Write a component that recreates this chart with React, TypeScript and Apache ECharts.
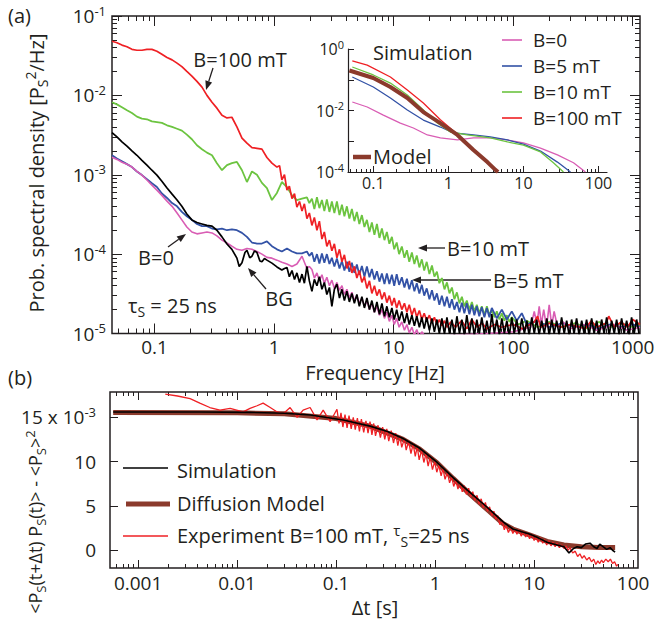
import React, { useEffect, useRef } from "react";
import * as echarts from "echarts";

type P = [number, number];

// ---------- axis ranges and ticks ----------
const FREQ_RANGE: P = [0.044, 1150];
const PSD_RANGE: P = [1e-5, 1e-1];
const FREQ_TICKS = [0.1, 1, 10, 100, 1000];
const PSD_TICKS = [1e-5, 1e-4, 1e-3, 1e-2, 1e-1];

const SIM_FREQ_RANGE: P = [0.046, 130];
const SIM_PSD_RANGE: P = [1e-4, 1];
const SIM_FREQ_TICKS = [0.1, 1, 10, 100];
const SIM_PSD_TICKS = [1e-4, 1e-3, 1e-2, 1e-1, 1];
const SIM_PSD_LABELS = [1e-4, 1e-2, 1];

const DT_RANGE: P = [5.2e-4, 112];
const ACF_RANGE: P = [-2.0, 17.85];
const DT_TICKS = [0.001, 0.01, 0.1, 1, 10, 100];
const ACF_TICKS = [0, 5, 10, 15];

// ---------- (a) measured spectra [Hz, Ps^2/Hz] ----------
const psdB100: P[] = [
  [0.044, 4.8e-2], [0.0484, 4.6e-2], [0.0533, 4.3e-2], [0.0587, 4.1e-2], [0.0646, 3.8e-2], [0.0711, 3.7e-2],
  [0.0783, 3.7e-2], [0.0862, 3.8e-2], [0.0949, 3.8e-2], [0.1045, 3.6e-2], [0.115, 3.3e-2], [0.127, 3.0e-2],
  [0.14, 2.8e-2], [0.154, 2.55e-2], [0.169, 2.3e-2], [0.186, 2.0e-2], [0.205, 1.75e-2], [0.226, 1.5e-2],
  [0.249, 1.27e-2], [0.274, 1.0e-2], [0.302, 8.2e-3], [0.332, 6.9e-3], [0.366, 5.6e-3], [0.403, 5.2e-3],
  [0.443, 5.3e-3], [0.488, 4.0e-3], [0.538, 2.9e-3], [0.592, 2.5e-3], [0.652, 2.2e-3], [0.718, 2.15e-3],
  [0.79, 2.1e-3], [0.87, 1.65e-3], [0.958, 1.4e-3], [1.055, 1.25e-3], [1.11, 1.3e-3],
  [1.16, 8.6e-4], [1.22, 1.0e-3], [1.28, 6.4e-4], [1.34, 7.2e-4], [1.41, 5.0e-4], [1.48, 5.8e-4],
  [1.55, 3.9e-4], [1.63, 4.6e-4], [1.71, 3.5e-4], [1.79, 4.3e-4], [1.88, 2.8e-4], [1.97, 3.3e-4],
  [2.07, 2.3e-4], [2.17, 2.9e-4], [2.28, 2.0e-4], [2.39, 2.6e-4], [2.51, 1.55e-4], [2.63, 1.9e-4],
  [2.76, 1.25e-4], [2.9, 1.5e-4], [3.04, 1.1e-4], [3.19, 1.35e-4], [3.35, 9.0e-5], [3.52, 1.15e-4],
  [3.69, 8.0e-5], [3.87, 9.8e-5], [4.06, 6.6e-5], [4.26, 8.2e-5], [4.47, 5.8e-5], [4.69, 7.0e-5],
  [4.92, 5.0e-5], [5.16, 6.2e-5], [5.42, 4.4e-5], [5.69, 5.2e-5], [5.97, 3.7e-5], [6.27, 4.6e-5],
  [6.57, 3.2e-5], [6.9, 4.0e-5], [7.24, 3.0e-5], [7.6, 3.6e-5], [7.97, 2.7e-5], [8.37, 3.3e-5],
  [8.77, 2.45e-5], [9.2, 3.0e-5], [9.66, 2.25e-5], [10.1, 2.8e-5], [10.6, 2.1e-5], [11.1, 2.6e-5],
  [11.7, 2.0e-5], [12.3, 2.4e-5], [12.9, 1.85e-5], [13.5, 2.3e-5], [14.2, 1.7e-5], [14.9, 2.1e-5],
  [15.6, 1.6e-5], [16.4, 1.95e-5], [17.2, 1.5e-5], [18.0, 1.8e-5], [18.9, 1.45e-5], [19.9, 1.7e-5],
  [20.9, 1.35e-5], [21.9, 1.6e-5], [23.0, 1.3e-5], [24.1, 1.5e-5], [25.3, 1.25e-5], [26.6, 1.45e-5],
  [27.9, 1.2e-5], [30, 1.4e-5], [33, 1.2e-5], [37, 1.45e-5], [41, 1.15e-5], [45, 1.5e-5], [50, 1.2e-5],
  [55, 1.35e-5], [60, 1.15e-5], [70, 1.3e-5], [80, 1.2e-5], [100, 1.3e-5], [120, 1.15e-5], [150, 1.4e-5],
  [160, 1.65e-5], [170, 1.2e-5], [200, 1.35e-5], [250, 1.2e-5], [300, 1.3e-5], [400, 1.15e-5], [450, 1.45e-5],
  [500, 1.2e-5], [600, 1.35e-5], [630, 1.65e-5], [700, 1.2e-5], [800, 1.4e-5], [900, 1.2e-5], [1000, 1.5e-5],
  [1150, 1.3e-5],
];

const psdB10: P[] = [
  [0.044, 8.2e-3], [0.0484, 7.7e-3], [0.0533, 7.1e-3], [0.0587, 6.5e-3], [0.0646, 6.0e-3], [0.0711, 5.4e-3],
  [0.0783, 5.1e-3], [0.0862, 5.0e-3], [0.0949, 4.7e-3], [0.1045, 4.6e-3], [0.115, 4.5e-3], [0.127, 4.2e-3],
  [0.14, 4.0e-3], [0.154, 3.8e-3], [0.169, 3.6e-3], [0.186, 3.2e-3], [0.205, 2.8e-3], [0.226, 2.35e-3],
  [0.249, 2.1e-3], [0.274, 1.9e-3], [0.302, 1.76e-3], [0.332, 1.4e-3], [0.366, 1.14e-3], [0.403, 1.32e-3],
  [0.443, 1.4e-3], [0.488, 1.45e-3], [0.538, 1.14e-3], [0.592, 8.1e-4], [0.652, 1.1e-3], [0.718, 1.0e-3],
  [0.79, 7.9e-4], [0.87, 6.8e-4], [0.958, 4.8e-4], [1.055, 5.9e-4], [1.16, 8.1e-4], [1.28, 7.0e-4],
  [1.41, 5.5e-4], [1.55, 4.8e-4], [1.71, 5.0e-4], [1.88, 5.2e-4], [1.97, 4.4e-4],
  [2.07, 5.0e-4], [2.17, 3.7e-4], [2.28, 5.2e-4], [2.39, 3.8e-4], [2.51, 4.8e-4], [2.63, 3.5e-4],
  [2.76, 4.9e-4], [2.9, 3.4e-4], [3.04, 4.6e-4], [3.19, 3.3e-4], [3.35, 4.6e-4], [3.52, 3.1e-4],
  [3.69, 4.2e-4], [3.87, 3.0e-4], [4.06, 4.0e-4], [4.26, 2.8e-4], [4.47, 3.7e-4], [4.69, 2.6e-4],
  [4.92, 3.4e-4], [5.16, 2.4e-4], [5.42, 3.1e-4], [5.69, 2.2e-4], [5.97, 2.7e-4], [6.27, 1.9e-4],
  [6.57, 2.5e-4], [6.9, 1.75e-4], [7.24, 2.4e-4], [7.6, 1.6e-4], [7.97, 2.1e-4], [8.37, 1.5e-4],
  [8.77, 1.9e-4], [9.2, 1.35e-4], [9.66, 1.65e-4], [10.1, 1.15e-4], [10.6, 1.4e-4], [11.1, 1.0e-4],
  [11.7, 1.25e-4], [12.3, 9.0e-5], [12.9, 1.12e-4], [13.5, 8.0e-5], [14.2, 1.05e-4], [14.9, 7.5e-5],
  [15.6, 9.6e-5], [16.4, 6.8e-5], [17.2, 8.6e-5], [18.0, 6.2e-5], [18.9, 8.0e-5], [19.9, 5.6e-5],
  [20.9, 7.2e-5], [21.9, 5.2e-5], [23.0, 6.0e-5], [24.1, 4.3e-5], [25.3, 5.0e-5], [26.6, 3.6e-5],
  [27.9, 4.4e-5], [29.3, 3.2e-5], [30.7, 3.8e-5], [32.2, 2.7e-5], [33.8, 3.3e-5], [35.5, 2.4e-5],
  [37.2, 2.9e-5], [39, 2.2e-5], [40.9, 2.6e-5], [43, 2.0e-5], [45.1, 2.5e-5], [47.3, 1.9e-5],
  [49.6, 2.3e-5], [52, 1.8e-5], [54.6, 2.2e-5], [57.4, 1.7e-5], [60.2, 2.2e-5], [63.2, 1.7e-5],
  [66.2, 2.0e-5], [69.5, 1.6e-5], [72.9, 1.9e-5], [76.6, 1.5e-5], [80.3, 1.8e-5], [84.3, 1.45e-5],
  [88.4, 1.7e-5], [92.8, 1.4e-5], [97.3, 1.6e-5], [110, 1.3e-5], [130, 1.45e-5], [160, 1.2e-5],
  [200, 1.4e-5], [260, 1.2e-5], [330, 1.35e-5], [420, 1.15e-5], [520, 1.4e-5], [650, 1.2e-5],
  [800, 1.35e-5], [1000, 1.2e-5], [1150, 1.3e-5],
];

const psdB5: P[] = [
  [0.044, 1.76e-3], [0.0484, 1.6e-3], [0.0533, 1.48e-3], [0.0587, 1.36e-3], [0.0646, 1.25e-3], [0.0711, 1.1e-3],
  [0.0783, 9.9e-4], [0.0862, 8.8e-4], [0.0949, 7.8e-4], [0.1045, 7.0e-4], [0.115, 5.8e-4], [0.127, 5.1e-4],
  [0.14, 4.4e-4], [0.154, 4.0e-4], [0.169, 3.4e-4], [0.186, 3.0e-4], [0.205, 2.7e-4], [0.226, 2.4e-4],
  [0.249, 2.25e-4], [0.274, 2.25e-4], [0.302, 2.1e-4], [0.332, 2.05e-4], [0.366, 2.1e-4], [0.403, 2.0e-4],
  [0.443, 2.05e-4], [0.488, 2.0e-4], [0.538, 1.85e-4], [0.592, 1.65e-4], [0.652, 1.4e-4], [0.718, 1.36e-4],
  [0.79, 1.36e-4], [0.87, 1.45e-4], [0.958, 1.26e-4], [1.055, 1.15e-4], [1.16, 1.08e-4], [1.28, 1.18e-4],
  [1.41, 1.08e-4], [1.55, 1.02e-4], [1.71, 1.02e-4], [1.88, 1.08e-4], [1.97, 9.5e-5],
  [2.07, 1.05e-4], [2.17, 8.0e-5], [2.28, 1.0e-4], [2.39, 7.6e-5], [2.51, 1.02e-4], [2.63, 7.8e-5],
  [2.76, 1.0e-4], [2.9, 7.5e-5], [3.04, 9.0e-5], [3.19, 7.0e-5], [3.35, 8.8e-5], [3.52, 6.6e-5],
  [3.69, 8.2e-5], [3.87, 6.2e-5], [4.06, 8.0e-5], [4.26, 6.0e-5], [4.47, 7.8e-5], [4.69, 5.8e-5],
  [4.92, 7.4e-5], [5.16, 5.5e-5], [5.42, 7.1e-5], [5.69, 5.2e-5], [5.97, 7.0e-5], [6.27, 5.1e-5],
  [6.57, 6.5e-5], [6.9, 4.8e-5], [7.24, 6.1e-5], [7.6, 4.5e-5], [7.97, 5.7e-5], [8.37, 4.2e-5],
  [8.77, 5.7e-5], [9.2, 4.2e-5], [9.66, 5.5e-5], [10.1, 4.0e-5], [10.6, 5.6e-5], [11.1, 4.1e-5],
  [11.7, 5.1e-5], [12.3, 3.8e-5], [12.9, 4.9e-5], [13.5, 3.6e-5], [14.2, 4.7e-5], [14.9, 3.4e-5],
  [15.6, 4.3e-5], [16.4, 3.2e-5], [17.2, 4.1e-5], [18.0, 3.0e-5], [18.9, 3.7e-5], [19.9, 2.7e-5],
  [20.9, 3.5e-5], [21.9, 2.6e-5], [23.0, 3.2e-5], [24.1, 2.3e-5], [25.3, 3.0e-5], [26.6, 2.2e-5],
  [27.9, 2.9e-5], [29.3, 2.1e-5], [30.7, 2.7e-5], [32.2, 2.0e-5], [33.8, 2.5e-5], [35.5, 1.85e-5],
  [37.2, 2.45e-5], [39, 1.8e-5], [40.9, 2.4e-5], [43, 1.75e-5], [45.1, 2.3e-5], [47.3, 1.7e-5],
  [49.6, 2.2e-5], [52, 1.65e-5], [54.6, 2.15e-5], [57.4, 1.6e-5], [60.2, 2.1e-5], [63.2, 1.6e-5],
  [66.2, 2.1e-5], [72.9, 1.55e-5], [80.3, 2.0e-5], [88.4, 1.5e-5], [97.3, 1.9e-5], [107, 1.45e-5],
  [118, 1.8e-5], [130, 1.3e-5], [160, 1.45e-5], [200, 1.2e-5], [260, 1.35e-5], [330, 1.2e-5],
  [420, 1.3e-5], [520, 1.15e-5], [650, 1.3e-5], [800, 1.2e-5], [1000, 1.3e-5], [1150, 1.2e-5],
];

const psdB0: P[] = [
  [0.044, 1.66e-3], [0.0484, 1.56e-3], [0.0533, 1.44e-3], [0.0587, 1.36e-3], [0.0646, 1.25e-3], [0.0711, 1.1e-3],
  [0.0783, 9.9e-4], [0.0862, 8.6e-4], [0.0949, 7.4e-4], [0.1045, 6.4e-4], [0.115, 5.5e-4], [0.127, 4.65e-4],
  [0.14, 4.0e-4], [0.154, 3.3e-4], [0.169, 2.7e-4], [0.186, 2.2e-4], [0.205, 1.9e-4], [0.226, 1.8e-4],
  [0.249, 1.85e-4], [0.274, 1.9e-4], [0.302, 1.85e-4], [0.332, 1.7e-4], [0.366, 1.5e-4], [0.403, 1.38e-4],
  [0.443, 1.26e-4], [0.488, 1.15e-4], [0.538, 1.12e-4], [0.592, 1.18e-4], [0.652, 1.15e-4], [0.718, 1.08e-4],
  [0.79, 1.0e-4], [0.87, 9.1e-5], [0.958, 8.9e-5], [1.055, 8.4e-5], [1.16, 7.9e-5], [1.28, 7.5e-5],
  [1.41, 7.0e-5], [1.55, 7.5e-5], [1.71, 9.4e-5], [1.88, 6.6e-5], [1.97, 7.0e-5],
  [2.07, 6.4e-5], [2.17, 5.0e-5], [2.28, 5.8e-5], [2.39, 4.6e-5], [2.51, 5.5e-5], [2.63, 4.3e-5],
  [2.76, 5.1e-5], [2.9, 4.0e-5], [3.04, 4.7e-5], [3.19, 3.7e-5], [3.35, 4.4e-5], [3.52, 3.5e-5],
  [3.69, 4.0e-5], [3.87, 3.1e-5], [4.06, 3.6e-5], [4.26, 2.8e-5], [4.47, 3.3e-5], [4.69, 2.6e-5],
  [4.92, 3.0e-5], [5.16, 2.4e-5], [5.42, 2.8e-5], [5.69, 2.2e-5], [5.97, 2.6e-5], [6.27, 2.0e-5],
  [6.57, 2.4e-5], [6.9, 1.85e-5], [7.24, 2.2e-5], [7.6, 1.7e-5], [7.97, 2.0e-5], [8.37, 1.55e-5],
  [8.77, 1.85e-5], [9.2, 1.42e-5], [9.66, 1.7e-5], [10.1, 1.3e-5], [10.6, 1.55e-5], [11.1, 1.2e-5],
  [11.7, 1.4e-5], [12.3, 1.1e-5], [12.9, 1.3e-5], [13.5, 1.02e-5], [14.2, 1.2e-5], [14.9, 9.6e-6],
  [15.6, 1.12e-5], [16.4, 9.0e-6], [17.2, 1.05e-5], [18.9, 8.5e-6], [20.9, 9.5e-6], [23, 8.0e-6],
  [30, 9.5e-6], [60, 1.0e-5], [100, 1.05e-5], [140, 1.2e-5], [150, 1.9e-5], [158, 1.3e-5], [165, 2.2e-5],
  [172, 1.3e-5], [180, 2.0e-5], [190, 1.2e-5], [200, 2.3e-5], [210, 1.25e-5], [220, 1.9e-5], [235, 1.2e-5],
  [260, 1.4e-5], [300, 1.15e-5], [400, 1.3e-5], [500, 1.1e-5], [700, 1.3e-5], [900, 1.1e-5], [1150, 1.2e-5],
];

const psdBG: P[] = [
  [0.044, 3.4e-3], [0.0484, 3.0e-3], [0.0533, 2.6e-3], [0.0587, 2.3e-3], [0.0646, 2.0e-3], [0.0711, 1.76e-3],
  [0.0783, 1.52e-3], [0.0862, 1.32e-3], [0.0949, 1.14e-3], [0.1045, 9.9e-4], [0.115, 8.3e-4], [0.127, 6.8e-4],
  [0.14, 5.7e-4], [0.154, 4.8e-4], [0.169, 4.0e-4], [0.186, 3.2e-4], [0.205, 2.7e-4], [0.226, 2.5e-4],
  [0.249, 2.4e-4], [0.274, 2.3e-4], [0.302, 2.25e-4], [0.332, 2.0e-4], [0.366, 1.65e-4], [0.403, 1.34e-4],
  [0.443, 1.15e-4], [0.488, 8.9e-5], [0.51, 7.0e-5], [0.538, 7.8e-5], [0.57, 1.05e-4], [0.592, 1.12e-4],
  [0.625, 9.0e-5], [0.652, 9.4e-5], [0.685, 1.1e-4], [0.718, 1.05e-4], [0.76, 8.2e-5], [0.79, 8.0e-5],
  [0.83, 8.8e-5], [0.87, 8.4e-5], [0.958, 7.7e-5], [1.055, 6.9e-5], [1.16, 6.3e-5], [1.22, 6.6e-5],
  [1.28, 6.8e-5], [1.34, 5.2e-5], [1.41, 6.2e-5], [1.48, 4.8e-5], [1.55, 5.8e-5], [1.63, 4.4e-5],
  [1.71, 5.6e-5], [1.79, 4.3e-5], [1.88, 7.0e-5], [1.97, 4.6e-5], [2.07, 3.4e-5], [2.17, 4.8e-5],
  [2.28, 4.0e-5], [2.39, 5.2e-5], [2.51, 3.6e-5], [2.63, 4.4e-5], [2.76, 3.1e-5], [2.9, 3.8e-5],
  [3.04, 2.2e-5], [3.19, 3.6e-5], [3.35, 4.2e-5], [3.52, 2.8e-5], [3.69, 3.6e-5], [3.87, 2.6e-5],
  [4.06, 3.4e-5], [4.26, 2.5e-5], [4.47, 3.2e-5], [4.69, 2.4e-5], [4.92, 3.1e-5], [5.16, 2.2e-5],
  [5.42, 2.9e-5], [5.69, 2.1e-5], [5.97, 2.8e-5], [6.27, 2.0e-5], [6.57, 2.6e-5], [6.9, 1.85e-5],
  [7.24, 2.5e-5], [7.6, 1.75e-5], [7.97, 2.4e-5], [8.37, 1.65e-5], [8.77, 2.2e-5], [9.2, 1.6e-5],
  [9.66, 2.1e-5], [10.1, 1.5e-5], [10.6, 2.0e-5], [11.1, 1.45e-5], [11.7, 1.9e-5], [12.3, 1.35e-5],
  [12.9, 1.8e-5], [13.5, 1.3e-5], [14.2, 1.7e-5], [14.9, 1.25e-5], [15.6, 1.65e-5], [16.4, 1.2e-5],
  [17.2, 1.6e-5], [18.0, 1.15e-5], [18.9, 1.6e-5], [19.9, 1.1e-5], [20.9, 1.55e-5], [21.9, 1.05e-5],
  [23, 1.5e-5], [24.1, 1.0e-5], [25.3, 1.55e-5], [26.6, 9.8e-6], [27.9, 1.6e-5], [29.3, 1.0e-5],
  [30.7, 1.5e-5], [32.2, 9.5e-6], [33.8, 1.65e-5], [35.5, 1.0e-5], [37.2, 1.5e-5], [39, 9.6e-6],
  [40.9, 1.7e-5], [43, 1.0e-5], [45.1, 1.55e-5], [47.3, 9.4e-6], [49.6, 1.5e-5], [52, 1.0e-5],
  [54.6, 1.6e-5], [57.4, 9.7e-6], [60.2, 1.45e-5], [63.2, 9.5e-6], [66.2, 1.75e-5], [69.5, 1.0e-5],
  [72.9, 1.5e-5], [76.6, 9.6e-6], [80.3, 1.55e-5], [84.3, 1.0e-5], [88.4, 1.45e-5], [92.8, 9.4e-6],
  [97.3, 1.6e-5], [102, 1.0e-5], [107, 1.5e-5], [112, 9.6e-6], [118, 1.55e-5], [124, 1.0e-5],
  [130, 1.45e-5], [136, 9.5e-6], [143, 1.6e-5], [150, 1.0e-5], [157, 1.5e-5], [165, 9.7e-6],
  [173, 1.45e-5], [182, 1.0e-5], [191, 1.55e-5], [200, 9.5e-6], [210, 1.5e-5], [220, 1.0e-5],
  [231, 1.45e-5], [242, 9.6e-6], [254, 1.6e-5], [267, 1.0e-5], [280, 1.45e-5], [294, 9.5e-6],
  [308, 1.5e-5], [323, 1.0e-5], [339, 1.55e-5], [356, 9.6e-6], [374, 1.45e-5], [392, 1.0e-5],
  [411, 1.5e-5], [432, 9.5e-6], [453, 1.55e-5], [475, 1.0e-5], [499, 1.45e-5], [524, 9.6e-6],
  [549, 1.5e-5], [576, 1.0e-5], [605, 1.6e-5], [635, 9.5e-6], [666, 1.45e-5], [700, 1.0e-5],
  [733, 1.5e-5], [770, 9.6e-6], [807, 1.55e-5], [847, 1.0e-5], [889, 1.45e-5], [933, 9.5e-6],
  [978, 1.6e-5], [1027, 1.0e-5], [1077, 1.5e-5], [1130, 1.0e-5],
];

// ---------- inset: simulated spectra [Hz, Ps^2/Hz] ----------
const simB0: P[] = [
  [0.0525, 0.0189], [0.083, 0.013], [0.136, 7.1e-3], [0.229, 3.9e-3], [0.342, 2.7e-3], [0.525, 1.6e-3],
  [0.783, 1.28e-3], [1.32, 1.1e-3], [2.16, 1.28e-3], [3.63, 1.28e-3], [6.12, 1.1e-3], [10, 8.8e-4],
  [16.9, 6.0e-4], [28.4, 3.6e-4], [46.5, 2.0e-4], [67.1, 1.0e-4],
];
const simB5: P[] = [
  [0.0525, 0.123], [0.1, 0.058], [0.169, 0.0255], [0.284, 0.0104], [0.464, 4.9e-3], [0.783, 2.9e-3],
  [1.17, 1.86e-3], [2.16, 1.6e-3], [3.63, 1.38e-3], [6.12, 1.1e-3], [10, 8.1e-4], [16.9, 4.8e-4],
  [28.4, 2.1e-4], [42.4, 1.0e-4],
];
const simB10: P[] = [
  [0.0525, 0.26], [0.1, 0.143], [0.169, 0.078], [0.284, 0.0319], [0.464, 0.0104], [0.714, 3.9e-3],
  [1.06, 2.0e-3], [1.79, 1.6e-3], [3.63, 1.28e-3], [6.12, 9.5e-4], [10, 7.5e-4], [16.9, 4.5e-4],
  [25.1, 2.0e-4], [34.2, 1.0e-4],
];
const simB100: P[] = [
  [0.0525, 0.41], [0.083, 0.30], [0.169, 0.123], [0.284, 0.0464], [0.464, 0.0175], [0.783, 5.0e-3],
  [1.32, 1.7e-3], [2.16, 5.4e-4], [3.31, 2.1e-4], [4.4, 1.0e-4],
];
const simModel: P[] = [
  [0.048, 0.2], [0.1, 0.114], [0.169, 0.058], [0.284, 0.0255], [0.464, 0.0089], [0.783, 3.9e-3],
  [1.32, 1.6e-3], [2.16, 5.2e-4], [3.31, 2.1e-4], [4.24, 1.17e-4], [4.6, 1.0e-4],
];

// ---------- (b) autocorrelation [s, 1e-3] ----------
const acfSim: P[] = [
  [5.6e-4, 15.6], [1.3e-3, 15.6], [4.2e-3, 15.6], [0.0135, 15.55], [0.03, 15.45], [0.055, 15.25],
  [0.118, 14.7], [0.22, 14.0], [0.33, 13.4], [0.475, 12.6], [0.7, 11.5], [1.05, 9.9], [1.52, 8.2],
  [2.26, 6.5], [3.35, 4.85], [4.86, 3.2], [6.1, 2.4], [7.5, 2.1], [9.1, 1.8], [11, 1.4], [13.5, 0.9],
  [17.1, 0.6], [20, 0.4], [22.5, -0.3], [25, 0.2], [27.2, 0.4], [30, 0.3], [33, 0.7], [36.7, 0.8],
  [40, 0.4], [43.2, 0.2], [46, 0.7], [49.7, 0.4], [54, 0.1], [58.6, 0.3], [62, 0.0], [65.8, -0.2],
];
const acfModel: P[] = [
  [5.6e-4, 15.55], [0.01, 15.5], [0.03, 15.4], [0.1, 14.85], [0.22, 14.0], [0.475, 12.5], [0.7, 11.4],
  [1.05, 9.85], [1.52, 8.1], [2.26, 6.3], [3.35, 4.6], [4.86, 3.0], [6.1, 2.4], [9.1, 1.7], [13.5, 1.0],
  [20, 0.6], [30, 0.4], [45, 0.3], [65.8, 0.3],
];
const acfExp: P[] = [
  [1.88e-3, 17.6], [2.5e-3, 17.4], [3.35e-3, 17.1], [4.2e-3, 16.6], [5.3e-3, 16.1], [6.7e-3, 15.8],
  [8.5e-3, 16.0], [0.0115, 15.6], [0.0135, 16.0], [0.0159, 16.3], [0.0183, 16.6], [0.0216, 16.1],
  [0.0254, 15.6], [0.0292, 15.4], [0.0343, 16.1], [0.0404, 15.0], [0.0464, 15.8], [0.0546, 16.1],
  [0.0642, 14.7], [0.074, 15.8], [0.087, 14.5], [0.102, 15.9], [0.107, 14.3], [0.112, 15.5],
  [0.117, 13.9], [0.123, 15.3], [0.129, 13.8], [0.135, 15.2], [0.142, 13.7], [0.149, 15.0],
  [0.156, 13.6], [0.164, 14.9], [0.172, 13.4], [0.18, 14.8], [0.19, 13.3], [0.2, 14.6], [0.21, 13.2],
  [0.22, 14.5], [0.23, 13.0], [0.24, 14.3], [0.25, 12.9], [0.265, 14.1], [0.28, 12.7], [0.295, 13.9],
  [0.31, 12.5], [0.325, 13.7], [0.34, 12.3], [0.36, 13.5], [0.38, 12.1], [0.4, 13.2], [0.42, 11.8],
  [0.44, 12.9], [0.46, 11.6], [0.49, 12.6], [0.51, 11.3], [0.54, 12.3], [0.57, 10.9], [0.6, 12.0],
  [0.63, 10.6], [0.66, 11.7], [0.69, 10.2], [0.73, 11.3], [0.77, 9.9], [0.81, 10.9], [0.85, 9.5],
  [0.89, 10.5], [0.94, 9.1], [0.99, 10.0], [1.04, 8.8], [1.09, 9.6], [1.15, 8.4], [1.2, 9.2],
  [1.26, 8.0], [1.33, 8.8], [1.4, 7.6], [1.47, 8.3], [1.54, 7.2], [1.62, 7.9], [1.7, 6.9], [1.79, 7.6],
  [1.88, 6.6], [1.97, 7.3], [2.07, 6.3], [2.18, 7.0], [2.29, 6.0], [2.4, 6.6], [2.52, 5.6], [2.65, 6.2],
  [2.78, 5.2], [2.92, 5.8], [3.07, 4.8], [3.22, 5.4], [3.38, 4.4], [3.55, 4.9], [3.73, 3.9], [3.92, 4.4],
  [4.1, 3.5], [4.3, 3.9], [4.5, 2.9], [4.75, 3.3], [5.0, 2.3], [5.2, 2.8], [5.5, 2.0], [5.8, 2.6],
  [6.1, 1.9], [6.4, 2.4], [6.7, 1.8], [7.0, 2.3], [7.4, 1.6], [7.8, 2.1], [8.2, 1.5], [8.6, 1.9],
  [9.0, 1.3], [9.5, 1.8], [10, 1.1], [10.5, 1.5], [11, 0.9], [11.6, 1.4], [12.2, 0.8], [12.8, 1.2],
  [13.4, 0.6], [14.1, 1.1], [14.8, 0.5], [15.5, 0.9], [16.3, 0.4], [17.1, 0.8], [18, 0.3], [19, 0.6],
  [20, 0.2], [21, 0.5], [22, 0.0], [23, 0.3], [24.5, -0.3], [26, -0.1], [27.5, -0.7], [29, -0.4],
  [30.5, -0.9], [32, -0.6], [34, -1.1], [36, -0.8], [38, -1.3], [40, -1.0], [42, -1.6], [44, -1.2],
  [46, -1.5], [48, -1.1], [50, -1.4], [53, -1.0], [56, -1.3], [59, -1.0], [62, -1.5], [65, -1.3],
  [68, -1.8], [70, -1.6],
];

// ---------- style ----------
const FONT = '"Open Sans", "Noto Sans", "DejaVu Sans", sans-serif';
const INK = "#231f20";
const C_B0 = "#d95db4";
const C_B5 = "#3352a6";
const C_B10 = "#6cc440";
const C_B100 = "#ef2024";
const C_BG = "#000000";
const C_MODEL = "#8b3a2c";

const lg = Math.log10;
const toLogLog = (d: P[]) => d.map(([x, y]) => [lg(x), lg(y)]);
const toLogLin = (d: P[]) => d.map(([x, y]) => [lg(x), y]);

function logMinors(lo: number, hi: number): number[] {
  const out: number[] = [];
  for (let d = Math.floor(lo); d <= Math.ceil(hi); d++) {
    for (let m = 2; m <= 9; m++) {
      const v = d + lg(m);
      if (v > lo && v < hi) out.push(v);
    }
  }
  return out;
}

const tickLabel = (ticks: number[]) => (v: number) => {
  const t = ticks.find((k) => Math.abs(lg(k) - v) < 1e-6);
  return t === undefined ? "" : String(t);
};

const richAxis = (big: number, small: number) => ({
  b: { fontSize: big, fontFamily: FONT, color: INK, lineHeight: big + 5 },
  s: { fontSize: small, fontFamily: FONT, color: INK, verticalAlign: "top" },
});

const tickAxis = (gridIndex: number, range: number[], position: string, values: number[], length: number, extra: any = {}) => ({
  type: "value",
  gridIndex,
  min: range[0],
  max: range[1],
  position,
  axisLine: { show: false, onZero: false },
  splitLine: { show: false },
  axisTick: { show: true, inside: true, length, customValues: values, lineStyle: { color: INK, width: 1 } },
  axisLabel: { show: false },
  ...extra,
});

const RICH = {
  p: { fontSize: 20, fontFamily: FONT, fill: INK, color: INK, lineHeight: 21 },
  q: { fontSize: 19, fontFamily: FONT, fill: INK, color: INK, lineHeight: 20 },
  t: { fontSize: 20, fontFamily: FONT, fill: INK, color: INK, lineHeight: 26 },
  sub: { fontSize: 14, fontFamily: FONT, fill: INK, color: INK, verticalAlign: "bottom" },
  sup: { fontSize: 14, fontFamily: FONT, fill: INK, color: INK, verticalAlign: "top" },
  tau: { fontSize: 15, fontFamily: FONT, fill: INK, color: INK, verticalAlign: "top" },
  u: { fontSize: 18, fontFamily: FONT, fill: INK, color: INK, lineHeight: 24 },
  usub: { fontSize: 13, fontFamily: FONT, fill: INK, color: INK, verticalAlign: "bottom" },
  usup: { fontSize: 13, fontFamily: FONT, fill: INK, color: INK, verticalAlign: "top" },
};

const txt = (x: number, y: number, text: string, align = "left", rotation = 0, size = 20) => ({
  type: "text",
  x,
  y,
  rotation,
  silent: true,
  style: {
    text,
    rich: RICH,
    font: `${size}px ${FONT}`,
    fill: INK,
    align,
    verticalAlign: "middle",
    textAlign: align,
    textVerticalAlign: "middle",
  },
});

const arrow = (x1: number, y1: number, x2: number, y2: number) => {
  const a = Math.atan2(y2 - y1, x2 - x1);
  const L = 9;
  const W = 3.5;
  const bx = x2 - L * Math.cos(a);
  const by = y2 - L * Math.sin(a);
  const px = -Math.sin(a) * W;
  const py = Math.cos(a) * W;
  return [
    { type: "line", silent: true, shape: { x1, y1, x2: bx, y2: by }, style: { stroke: INK, lineWidth: 1.3 } },
    {
      type: "polygon",
      silent: true,
      shape: { points: [[x2, y2], [bx + px, by + py], [bx - px, by - py]] },
      style: { fill: INK },
    },
  ];
};

const seg = (x1: number, y1: number, x2: number, y2: number, color: string, w: number) => ({
  type: "line",
  silent: true,
  shape: { x1, y1, x2, y2 },
  style: { stroke: color, lineWidth: w },
});

function buildOption() {
  const fx = [lg(FREQ_RANGE[0]), lg(FREQ_RANGE[1])];
  const py = [lg(PSD_RANGE[0]), lg(PSD_RANGE[1])];
  const sx = [lg(SIM_FREQ_RANGE[0]), lg(SIM_FREQ_RANGE[1])];
  const sy = [lg(SIM_PSD_RANGE[0]), lg(SIM_PSD_RANGE[1])];
  const dx = [lg(DT_RANGE[0]), lg(DT_RANGE[1])];

  const lblBase = { show: true, fontFamily: FONT, color: INK };
  const insetLine = { show: true, onZero: false, lineStyle: { color: INK, width: 1.2 } };

  const xAxis = [
    // (a)
    tickAxis(0, fx, "bottom", FREQ_TICKS.map(lg), 10, {
      axisLabel: { ...lblBase, fontSize: 19, margin: 4, customValues: FREQ_TICKS.map(lg), formatter: tickLabel(FREQ_TICKS) },
    }),
    tickAxis(0, fx, "bottom", logMinors(fx[0], fx[1]), 5),
    tickAxis(0, fx, "top", FREQ_TICKS.map(lg), 10),
    tickAxis(0, fx, "top", logMinors(fx[0], fx[1]), 5),
    // inset
    tickAxis(1, sx, "bottom", SIM_FREQ_TICKS.map(lg), 6, {
      axisLine: insetLine,
      axisLabel: { ...lblBase, fontSize: 16, margin: 3, customValues: SIM_FREQ_TICKS.map(lg), formatter: tickLabel(SIM_FREQ_TICKS) },
    }),
    tickAxis(1, sx, "bottom", logMinors(sx[0], sx[1]), 3),
    // (b)
    tickAxis(2, dx, "bottom", DT_TICKS.map(lg), 8, {
      axisLabel: { ...lblBase, fontSize: 19, margin: 5, customValues: DT_TICKS.map(lg), formatter: tickLabel(DT_TICKS) },
    }),
    tickAxis(2, dx, "bottom", logMinors(dx[0], dx[1]), 4),
    tickAxis(2, dx, "top", DT_TICKS.map(lg), 8),
    tickAxis(2, dx, "top", logMinors(dx[0], dx[1]), 4),
  ];

  const yAxis = [
    // (a)
    tickAxis(0, py, "left", PSD_TICKS.map(lg), 10, {
      axisLabel: {
        ...lblBase,
        margin: 6,
        customValues: PSD_TICKS.map(lg),
        formatter: (v: number) => `{b|10}{s|${Math.round(v)}}`,
        rich: richAxis(19, 13),
      },
    }),
    tickAxis(0, py, "left", logMinors(py[0], py[1]), 5),
    tickAxis(0, py, "right", PSD_TICKS.map(lg), 10),
    tickAxis(0, py, "right", logMinors(py[0], py[1]), 5),
    // inset
    tickAxis(1, sy, "left", SIM_PSD_TICKS.map(lg), 6, {
      axisLine: insetLine,
      axisLabel: {
        ...lblBase,
        margin: 4,
        customValues: SIM_PSD_LABELS.map(lg),
        formatter: (v: number) => `{b|10}{s|${Math.round(v)}}`,
        rich: richAxis(16, 11),
      },
    }),
    // (b)
    tickAxis(2, ACF_RANGE, "left", ACF_TICKS, 8, {
      axisLabel: {
        ...lblBase,
        margin: 14,
        customValues: ACF_TICKS,
        formatter: (v: number) => (v === 15 ? "{b|15 x 10}{s|-3}" : `{b|${v}}`),
        rich: richAxis(19, 13),
      },
    }),
    tickAxis(2, ACF_RANGE, "right", ACF_TICKS, 8),
  ];

  const ln = (name: string, data: any[], color: string, width: number, xi: number, yi: number, z: number) => ({
    type: "line",
    name,
    data,
    xAxisIndex: xi,
    yAxisIndex: yi,
    showSymbol: false,
    symbol: "none",
    silent: true,
    clip: true,
    z,
    lineStyle: { color, width },
    itemStyle: { color },
  });

  const series = [
    ln("B=10 mT", toLogLog(psdB10), C_B10, 1.8, 0, 0, 2),
    ln("B=5 mT", toLogLog(psdB5), C_B5, 1.8, 0, 0, 3),
    ln("B=0", toLogLog(psdB0), C_B0, 1.6, 0, 0, 4),
    ln("B=100 mT", toLogLog(psdB100), C_B100, 1.7, 0, 0, 5),
    ln("BG", toLogLog(psdBG), C_BG, 1.7, 0, 0, 6),

    ln("Sim B=0", toLogLog(simB0), C_B0, 1.3, 4, 4, 2),
    ln("Sim B=5 mT", toLogLog(simB5), C_B5, 1.3, 4, 4, 3),
    ln("Sim B=10 mT", toLogLog(simB10), C_B10, 1.3, 4, 4, 4),
    ln("Sim B=100 mT", toLogLog(simB100), C_B100, 1.3, 4, 4, 5),
    ln("Model", toLogLog(simModel), C_MODEL, 4, 4, 4, 6),

    ln("Diffusion Model", toLogLin(acfModel), C_MODEL, 5, 6, 5, 2),
    ln("Experiment", toLogLin(acfExp), C_B100, 1.3, 6, 5, 3),
    ln("Simulation", toLogLin(acfSim), C_BG, 1.6, 6, 5, 4),
  ];

  const graphics: any[] = [
    txt(8, 15, "{p|(a)}"),
    txt(8, 377, "{p|(b)}"),
    txt(36, 173, "{t|Prob. spectral density [P}{sub|S}{sup|2}{t|/Hz]}", "center", Math.PI / 2),
    txt(375, 372, "{p|Frequency [Hz]}", "center"),
    txt(35, 522, "{u|<P}{usub|S}{u|(t+Δt) P}{usub|S}{u|(t)> - <P}{usub|S}{u|>}{usup|2}", "center", Math.PI / 2, 18),
    txt(375, 607, "{p|Δt [s]}", "center"),
    // annotations (a)
    txt(240, 59, "{p|B=100 mT}", "center"),
    ...arrow(213, 68, 206, 90),
    txt(156, 257, "{p|B=0}", "center"),
    ...arrow(168, 247, 186, 234),
    txt(279, 298, "{p|BG}", "center"),
    ...arrow(266, 289, 248, 268),
    txt(128, 305, "{t|τ}{sub|S}{t| = 25 ns}"),
    txt(447, 248, "{p|B=10 mT}"),
    ...arrow(445, 248, 418, 248),
    txt(493, 280, "{p|B=5 mT}"),
    ...arrow(491, 280, 412, 280),
    // inset labels / legend
    txt(373, 52, "{p|Simulation}"),
    seg(502, 40, 522, 40, C_B0, 1.6),
    txt(533, 40, "{q|B=0}", "left", 0, 19),
    seg(502, 66, 522, 66, C_B5, 1.6),
    txt(533, 66, "{q|B=5 mT}", "left", 0, 19),
    seg(502, 92, 522, 92, C_B10, 1.6),
    txt(533, 92, "{q|B=10 mT}", "left", 0, 19),
    seg(502, 118, 522, 118, C_B100, 1.6),
    txt(533, 118, "{q|B=100 mT}", "left", 0, 19),
    seg(353, 157, 371, 157, C_MODEL, 4.5),
    txt(373, 156, "{p|Model}"),
    // (b) legend
    seg(123, 468, 168, 468, C_BG, 1.6),
    txt(177, 470, "{p|Simulation}"),
    seg(126, 504, 170, 504, C_MODEL, 5),
    txt(177, 503, "{p|Diffusion Model}"),
    seg(123, 536, 168, 536, C_B100, 1.6),
    txt(177, 535, "{t|Experiment B=100 mT, }{tau|τ}{sub|S}{t|=25 ns}"),
  ];

  return {
    animation: false,
    backgroundColor: "#ffffff",
    textStyle: { fontFamily: FONT },
    tooltip: { show: false },
    grid: [
      { left: 112, top: 16, width: 528, height: 317.5, show: true, borderColor: INK, borderWidth: 1.5, backgroundColor: "transparent" },
      { left: 348, top: 49, width: 259, height: 123, show: false },
      { left: 110, top: 392, width: 528, height: 176, show: true, borderColor: INK, borderWidth: 1.5, backgroundColor: "transparent" },
    ],
    xAxis,
    yAxis,
    series,
    graphic: { elements: graphics },
  };
}

export default function App() {
  const ref = useRef<HTMLDivElement>(null);
  useEffect(() => {
    document.body.style.margin = "0";
    if (!ref.current) return;
    const chart = echarts.init(ref.current, undefined, { renderer: "svg" });
    chart.setOption(buildOption() as any);
    return () => chart.dispose();
  }, []);
  return <div ref={ref} style={{ width: 671, height: 629 }} />;
}
